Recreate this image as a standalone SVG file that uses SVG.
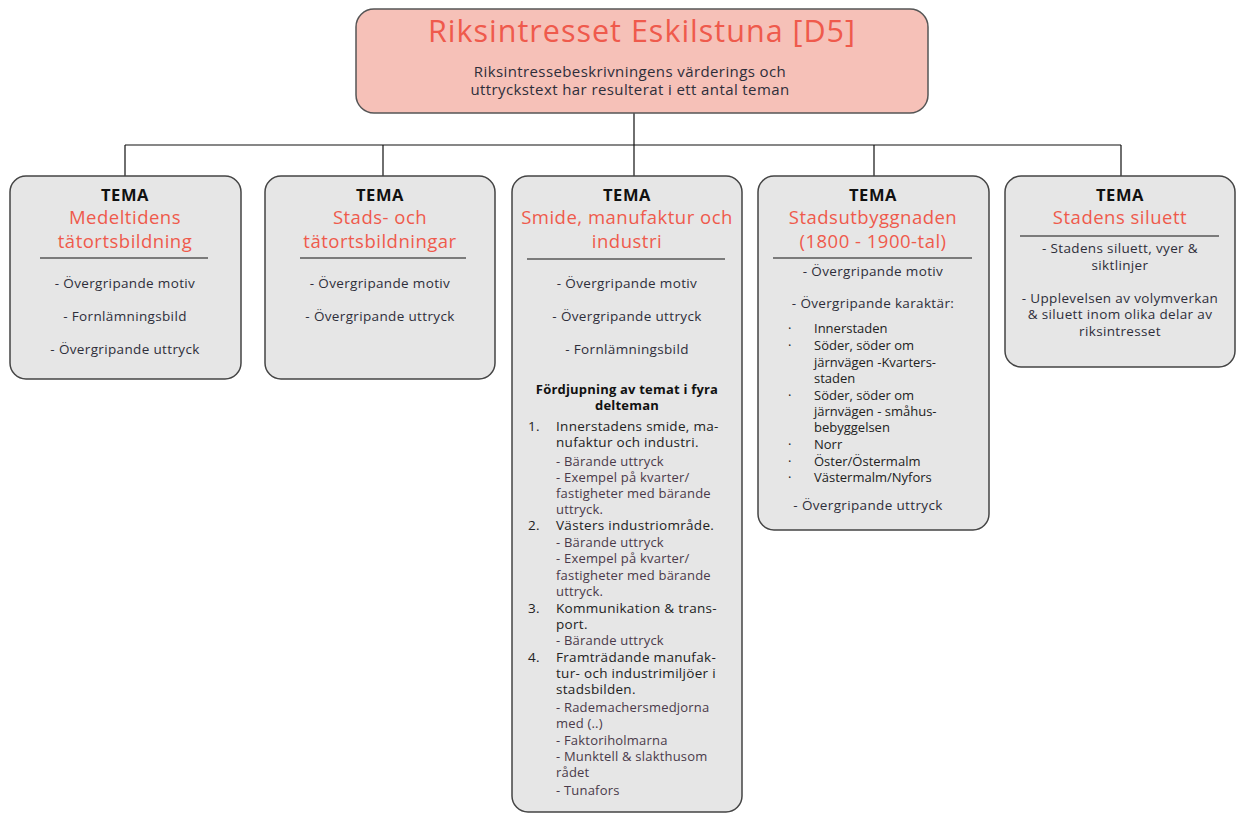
<svg xmlns="http://www.w3.org/2000/svg" width="1243" height="814" viewBox="0 0 1243 814">
<style>
text{font-family:"Open Sans","Noto Sans","DejaVu Sans",sans-serif}
.box{fill:#e6e6e6;stroke:#444;stroke-width:1.5}
.top{fill:#f6c1b8;stroke:#555;stroke-width:1.5}
.tema{font-size:16.5px;font-weight:bold;fill:#111;text-anchor:middle;letter-spacing:0.6px}
.red{font-size:18.5px;fill:#ef5a4c;text-anchor:middle;letter-spacing:0.5px}
.it{font-size:13.5px;fill:#2e2e3a;text-anchor:middle;letter-spacing:0.35px}
.sep{stroke:#111;stroke-width:1.2}
.li{font-size:13px;fill:#222}
.li3{font-size:13.5px;fill:#222;letter-spacing:0.3px}
.sub{font-size:13px;fill:#4a3a4a;letter-spacing:0.2px}
.bd{font-size:13px;font-weight:bold;fill:#111;text-anchor:middle;letter-spacing:0.2px}
.con{fill:none;stroke:#111;stroke-width:1.2}
</style>
<g id="connectors">
<path class="con" d="M634 113V145M125 145H1121M125 145V176M383 145V176M634 145V176M874 145V176M1121 145V176"/>
</g>
<g id="root">
<rect class="top" x="356" y="9" width="572" height="104" rx="18"/>
<text x="642" y="42" style="font-size:30.5px;fill:#ef5a4c;text-anchor:middle;letter-spacing:1px">Riksintresset Eskilstuna [D5]</text>
<text x="630" y="77" style="font-size:15px;fill:#2e2e3a;text-anchor:middle;letter-spacing:0.4px">Riksintressebeskrivningens värderings och</text>
<text x="630" y="95" style="font-size:15px;fill:#2e2e3a;text-anchor:middle;letter-spacing:0.4px">uttryckstext har resulterat i ett antal teman</text>
</g>
<g id="tema1">
<rect class="box" x="10" y="176" width="231" height="203" rx="16"/>
<text class="tema" x="125" y="201">TEMA</text>
<text class="red" x="125" y="224">Medeltidens</text>
<text class="red" x="125" y="248">tätortsbildning</text>
<line class="sep" x1="40" y1="258" x2="208" y2="258"/>
<text class="it" x="125" y="288">- Övergripande motiv</text>
<text class="it" x="125" y="321">- Fornlämningsbild</text>
<text class="it" x="125" y="354">- Övergripande uttryck</text>
</g>
<g id="tema2">
<rect class="box" x="265" y="176" width="230" height="203" rx="16"/>
<text class="tema" x="380" y="201">TEMA</text>
<text class="red" x="380" y="224">Stads- och</text>
<text class="red" x="380" y="248">tätortsbildningar</text>
<line class="sep" x1="300" y1="258" x2="466" y2="258"/>
<text class="it" x="380" y="288">- Övergripande motiv</text>
<text class="it" x="380" y="321">- Övergripande uttryck</text>
</g>
<g id="tema3">
<rect class="box" x="512" y="176" width="230" height="636" rx="16"/>
<text class="tema" x="627" y="201">TEMA</text>
<text class="red" x="627" y="224">Smide, manufaktur och</text>
<text class="red" x="627" y="248">industri</text>
<line class="sep" x1="527" y1="259" x2="725" y2="259"/>
<text class="it" x="627" y="288">- Övergripande motiv</text>
<text class="it" x="627" y="321">- Övergripande uttryck</text>
<text class="it" x="627" y="354">- Fornlämningsbild</text>
<text class="bd" x="627" y="394">Fördjupning av temat i fyra</text>
<text class="bd" x="627" y="410">delteman</text>
<text class="li3" x="528" y="431">1.</text>
<text class="li3" x="556" y="431">Innerstadens smide, ma-</text>
<text class="li3" x="556" y="447">nufaktur och industri.</text>
<text class="sub" x="556" y="466">- Bärande uttryck</text>
<text class="sub" x="556" y="482">- Exempel på kvarter/</text>
<text class="sub" x="556" y="498">fastigheter med bärande</text>
<text class="sub" x="556" y="514">uttryck.</text>
<text class="li3" x="528" y="530">2.</text>
<text class="li3" x="556" y="530">Västers industriområde.</text>
<text class="sub" x="556" y="547">- Bärande uttryck</text>
<text class="sub" x="556" y="563">- Exempel på kvarter/</text>
<text class="sub" x="556" y="580">fastigheter med bärande</text>
<text class="sub" x="556" y="596">uttryck.</text>
<text class="li3" x="528" y="613">3.</text>
<text class="li3" x="556" y="613">Kommunikation &amp; trans-</text>
<text class="li3" x="556" y="629">port.</text>
<text class="sub" x="556" y="645">- Bärande uttryck</text>
<text class="li3" x="528" y="662">4.</text>
<text class="li3" x="556" y="662">Framträdande manufak-</text>
<text class="li3" x="556" y="678">tur- och industrimiljöer i</text>
<text class="li3" x="556" y="694">stadsbilden.</text>
<text class="sub" x="556" y="712">- Rademachersmedjorna</text>
<text class="sub" x="556" y="728">med (..)</text>
<text class="sub" x="556" y="745">- Faktoriholmarna</text>
<text class="sub" x="556" y="761">- Munktell &amp; slakthusom</text>
<text class="sub" x="556" y="777">rådet</text>
<text class="sub" x="556" y="795">- Tunafors</text>
</g>
<g id="tema4">
<rect class="box" x="758" y="176" width="231" height="354" rx="16"/>
<text class="tema" x="873" y="201">TEMA</text>
<text class="red" x="873" y="224">Stadsutbyggnaden</text>
<text class="red" x="873" y="248">(1800 - 1900-tal)</text>
<line class="sep" x1="773" y1="258" x2="972" y2="258"/>
<text class="it" x="873" y="276">- Övergripande motiv</text>
<text class="it" x="873" y="308">- Övergripande karaktär:</text>
<text class="li" x="788" y="333">·</text><text class="li" x="814" y="333">Innerstaden</text>
<text class="li" x="788" y="350">·</text><text class="li" x="814" y="350">Söder, söder om</text>
<text class="li" x="814" y="367">järnvägen -Kvarters-</text>
<text class="li" x="814" y="383">staden</text>
<text class="li" x="788" y="400">·</text><text class="li" x="814" y="400">Söder, söder om</text>
<text class="li" x="814" y="416">järnvägen - småhus-</text>
<text class="li" x="814" y="432">bebyggelsen</text>
<text class="li" x="788" y="449">·</text><text class="li" x="814" y="449">Norr</text>
<text class="li" x="788" y="466">·</text><text class="li" x="814" y="466">Öster/Östermalm</text>
<text class="li" x="788" y="482">·</text><text class="li" x="814" y="482">Västermalm/Nyfors</text>
<text class="it" x="868" y="510">- Övergripande uttryck</text>
</g>
<g id="tema5">
<rect class="box" x="1005" y="176" width="230" height="191" rx="16"/>
<text class="tema" x="1120" y="201">TEMA</text>
<text class="red" x="1120" y="224">Stadens siluett</text>
<line class="sep" x1="1020" y1="236" x2="1219" y2="236"/>
<text class="it" x="1120" y="253">- Stadens siluett, vyer &amp;</text>
<text class="it" x="1120" y="270">siktlinjer</text>
<text class="it" x="1120" y="303">- Upplevelsen av volymverkan</text>
<text class="it" x="1120" y="319">&amp; siluett inom olika delar av</text>
<text class="it" x="1120" y="336">riksintresset</text>
</g>
</svg>
